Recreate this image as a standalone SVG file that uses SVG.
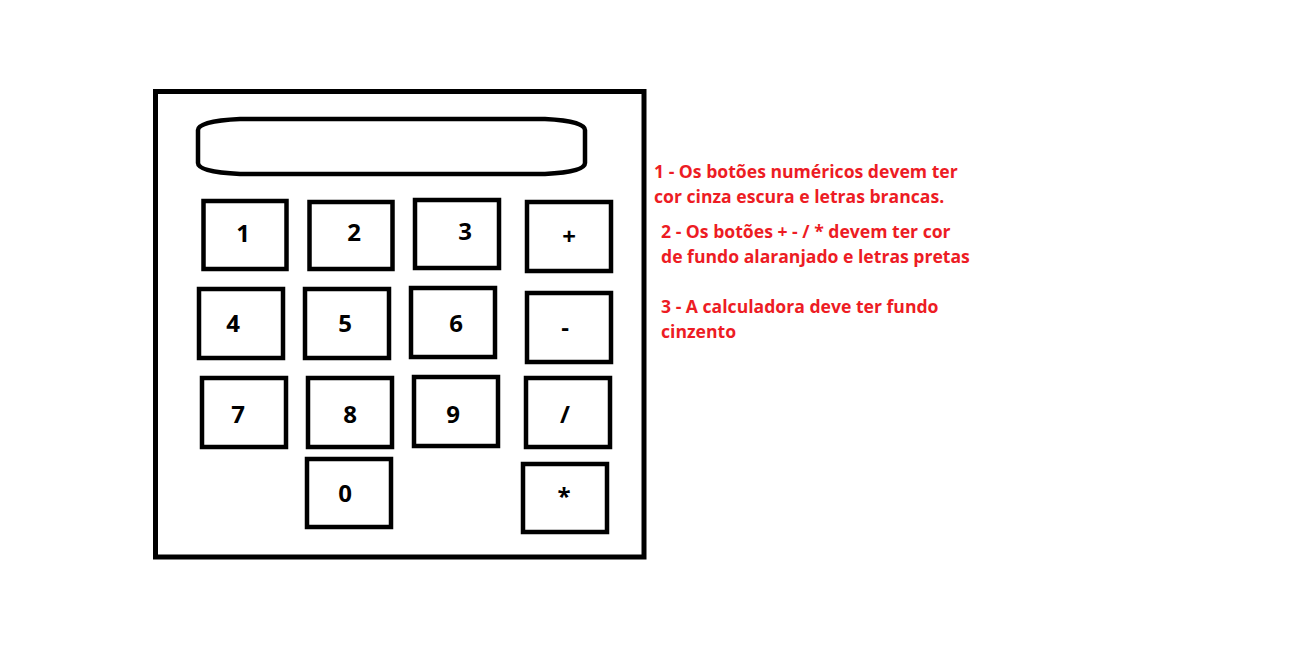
<svg xmlns="http://www.w3.org/2000/svg" width="1300" height="648" viewBox="0 0 1300 648">
<style>
.frame{fill:none;stroke:#000;stroke-width:5}
.btn{fill:none;stroke:#000;stroke-width:4.5}
.lbl{font-family:"Open Sans","Noto Sans",sans-serif;font-weight:bold;font-size:24px;fill:#000;text-anchor:middle}
.note{font-family:"Open Sans","Noto Sans",sans-serif;font-weight:bold;font-size:17.6px;fill:#ED1C24}
</style>
<rect width="1300" height="648" fill="#fff"/>
<g id="calculator">
<rect class="frame" x="155.5" y="91.5" width="488.5" height="465.5"/>
</g>
<g id="display">
<path class="btn" d="M198,130 Q198,121 240,119 L545,119 Q585,121 585,130 L585,163 Q585,172 545,174 L240,174 Q198,172 198,163 Z"/>
</g>
<g id="btn-1"><rect class="btn" x="203.5" y="201" width="83" height="68"/><text class="lbl" x="243" y="242">1</text></g>
<g id="btn-2"><rect class="btn" x="309.5" y="202" width="83" height="67"/><text class="lbl" x="354" y="241">2</text></g>
<g id="btn-3"><rect class="btn" x="415" y="200" width="84" height="68"/><text class="lbl" x="465" y="240">3</text></g>
<g id="btn-plus"><rect class="btn" x="527" y="202" width="84" height="69"/><text class="lbl" x="569" y="245">+</text></g>
<g id="btn-4"><rect class="btn" x="199" y="289" width="84" height="69"/><text class="lbl" x="233" y="332">4</text></g>
<g id="btn-5"><rect class="btn" x="305" y="289" width="84" height="69"/><text class="lbl" x="345" y="332">5</text></g>
<g id="btn-6"><rect class="btn" x="411" y="288" width="84" height="69"/><text class="lbl" x="456" y="332">6</text></g>
<g id="btn-minus"><rect class="btn" x="527" y="293" width="84" height="69"/><text class="lbl" x="565" y="336">-</text></g>
<g id="btn-7"><rect class="btn" x="202" y="378" width="84" height="69"/><text class="lbl" x="238" y="423">7</text></g>
<g id="btn-8"><rect class="btn" x="308" y="378" width="84" height="69"/><text class="lbl" x="350" y="423">8</text></g>
<g id="btn-9"><rect class="btn" x="414" y="377" width="84" height="69"/><text class="lbl" x="453" y="423">9</text></g>
<g id="btn-div"><rect class="btn" x="526" y="378" width="84" height="69"/><text class="lbl" x="565" y="423">/</text></g>
<g id="btn-0"><rect class="btn" x="307" y="459" width="84" height="68"/><text class="lbl" x="345" y="502">0</text></g>
<g id="btn-mul"><rect class="btn" x="523" y="464" width="84" height="68"/><text class="lbl" x="564" y="505">*</text></g>
<g id="notes">
<text class="note" x="654" y="178">1 - Os botões numéricos devem ter</text>
<text class="note" x="654" y="203">cor cinza escura e letras brancas.</text>
<text class="note" x="661" y="238">2 - Os botões + - / * devem ter cor</text>
<text class="note" x="661" y="263">de fundo alaranjado e letras pretas</text>
<text class="note" x="661" y="313">3 - A calculadora deve ter fundo</text>
<text class="note" x="661" y="338">cinzento</text>
</g>
</svg>
